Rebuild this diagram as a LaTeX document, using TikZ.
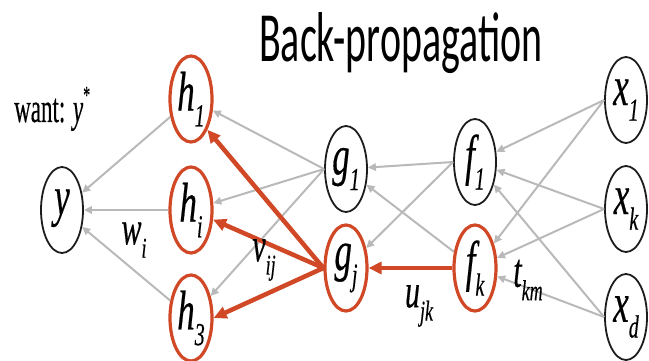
\documentclass[tikz,border=0pt]{standalone}
\usepackage{fontspec}
\setmainfont{Liberation Serif}
\newfontfamily\lblfont[FakeBold=0.5]{Liberation Serif}
\newfontfamily\titlefont{Carlito}
\usetikzlibrary{arrows.meta,shapes.geometric}

\definecolor{edgegray}{RGB}{185,185,185}
\definecolor{hot}{RGB}{208,72,38}
\definecolor{ink}{RGB}{28,28,28}

% italic symbol with a lowered subscript, stretched vertically
\newcommand\nodelbl[2]{\scalebox{1}[1.6]{\lblfont\fontsize{35}{35}\selectfont\itshape #1\raisebox{-0.28em}{\fontsize{20}{20}\selectfont #2}}}
\newcommand\edgelbl[2]{\scalebox{1}[1.6]{\lblfont\fontsize{30}{30}\selectfont\itshape #1\raisebox{-0.28em}{\fontsize{18}{18}\selectfont #2}}}

\tikzset{
  unit/.style={ellipse, draw=ink, line width=1.8pt, minimum width=42pt, minimum height=86pt, inner sep=0pt},
  hotunit/.style={unit, draw=hot, line width=3.2pt},
  fwd/.style={draw=edgegray, line width=2pt, -{Triangle[length=8pt,width=7.5pt]}},
  bwd/.style={draw=hot, line width=4.5pt, -{Triangle[length=13pt,width=12pt]}},
  lbl/.style={inner sep=0pt}
}

\begin{document}
\begin{tikzpicture}[x=1pt, y=-1pt]
\useasboundingbox (0,0) rectangle (649,361);

% title
\node[lbl, anchor=base west] (title) at (259,62) {\resizebox{283pt}{49pt}{\titlefont Back-propagation}};

% output target
\node[lbl, anchor=base west] (want) at (14,122) {\scalebox{1}[1.8]{\lblfont\fontsize{23}{23}\selectfont want: \textit{y}\raisebox{0.45em}{\fontsize{14}{14}\selectfont *}}};

% units
\node[unit]    (y)  at (62,210)  {\nodelbl{y}{}};
\node[hotunit] (h1) at (191,99)  {\nodelbl{h}{1}};
\node[hotunit] (hi) at (191,210) {\nodelbl{h}{i}};
\node[hotunit] (h3) at (191,318) {\nodelbl{h}{3}};
\node[unit]    (g1) at (346,169) {\nodelbl{g}{1}};
\node[hotunit] (gj) at (346,268) {\nodelbl{g}{j}};
\node[unit]    (f1) at (475,162) {\nodelbl{f}{1}};
\node[hotunit] (fk) at (475,268) {\nodelbl{f}{k}};
\node[unit]    (x1) at (626,100) {\nodelbl{x}{1}};
\node[unit]    (xk) at (626,209) {\nodelbl{x}{k}};
\node[unit]    (xd) at (626,317) {\nodelbl{x}{d}};

% forward connections
\draw[fwd] (h1) -- (y);
\draw[fwd] (hi) -- (y);
\draw[fwd] (h3) -- (y);
\draw[fwd] (g1.west) -- (h1);
\draw[fwd] (g1.west) -- (hi);
\draw[fwd] (g1.west) -- (h3);
\draw[fwd] (f1.west) -- (g1);
\draw[fwd] (f1.west) -- (gj);
\draw[fwd] (fk) -- (g1);
\draw[fwd] (x1.west) -- (f1);
\draw[fwd] (x1.west) -- (fk);
\draw[fwd] (xk.west) -- (f1);
\draw[fwd] (xk.west) -- (fk);
\draw[fwd] (xd.west) -- (f1);
\draw[fwd] (xd.west) -- (fk);

% backward signal
\draw[bwd] (gj.west) -- (h1.-62);
\draw[bwd] (gj.west) -- (hi);
\draw[bwd] (gj.west) -- (h3.east);
\draw[bwd] (fk) -- (gj);

% weight labels
\node[lbl] (wi)  at (134,240) {\edgelbl{w}{i}};
\node[lbl] (vij) at (264,260) {\edgelbl{v}{ij}};
\node[lbl] (ujk) at (419,306) {\edgelbl{u}{jk}};
\node[lbl] (tkm) at (528,280) {\edgelbl{t}{km}};
\end{tikzpicture}
\end{document}
